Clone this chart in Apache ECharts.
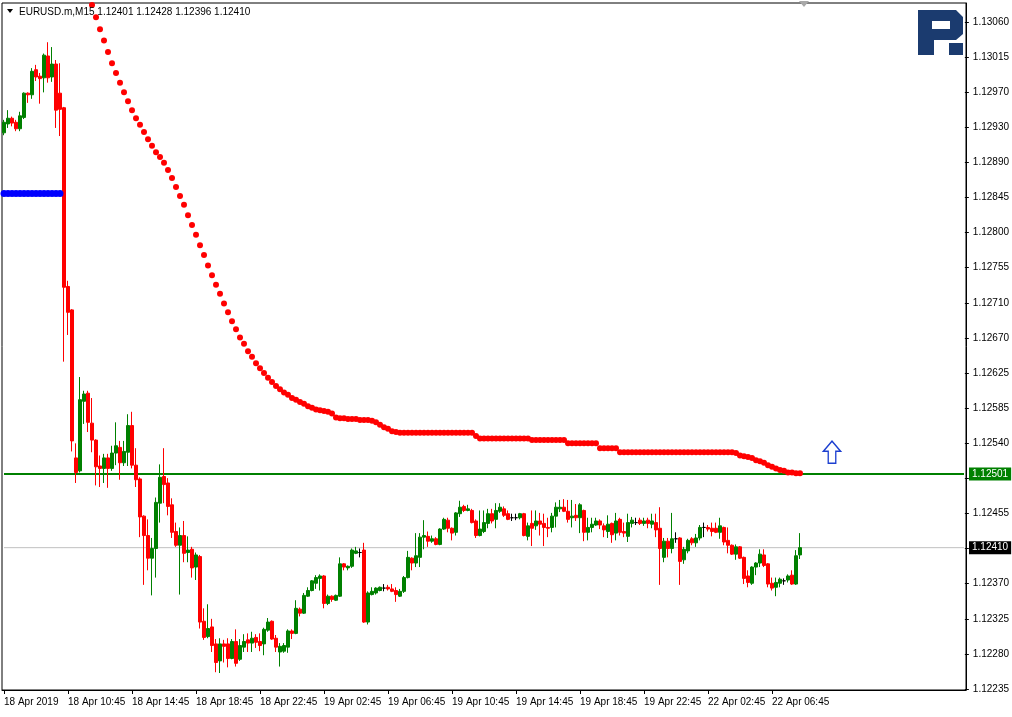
<!DOCTYPE html>
<html><head><meta charset="utf-8">
<script src="https://cdn.jsdelivr.net/npm/echarts/dist/echarts.min.js"></script>
<style>html,body{margin:0;padding:0;background:#fff}#c{width:1012px;height:717px}</style>
</head><body><div id="c"></div>
<script>
const headerText = 'EURUSD.m,M15 1.12401 1.12428 1.12396 1.12410';
const xLabels = ['18 Apr 2019','18 Apr 10:45','18 Apr 14:45','18 Apr 18:45','18 Apr 22:45','19 Apr 02:45','19 Apr 06:45','19 Apr 10:45','19 Apr 14:45','19 Apr 18:45','19 Apr 22:45','22 Apr 02:45','22 Apr 06:45'];
const yLabels = ['1.13060','1.13015','1.12970','1.12930','1.12890','1.12845','1.12800','1.12755','1.12710','1.12670','1.12625','1.12585','1.12540','1.12495','1.12455','1.12410','1.12370','1.12325','1.12280','1.12235'];
const hiddenYLabels = ['1.12495', '1.12410']; // covered by the price boxes
const yMin = 1.12234, yMax = 1.130835;

const opens = [
1.12923,1.12934,1.12941,1.12936,1.12928,1.12942,1.12972,1.12970,1.13001,1.12993,
1.12991,1.13018,1.12992,1.13008,1.12972,1.12954,1.12733,1.12704,1.12521,1.12505,
1.12591,1.12601,1.12564,1.12543,1.12511,1.12508,1.12521,1.12508,1.12527,1.12534,
1.12515,1.12528,1.12561,1.12512,1.12495,1.12449,1.12425,1.12397,1.12409,1.12465,
1.12498,1.12490,1.12463,1.12430,1.12413,1.12425,1.12404,1.12408,1.12386,1.12399,
1.12319,1.12300,1.12312,1.12291,1.12270,1.12291,1.12291,1.12273,1.12294,1.12272,
1.12287,1.12296,1.12292,1.12299,1.12294,1.12291,1.12308,1.12319,1.12298,1.12281,
1.12282,1.12287,1.12307,1.12304,1.12334,1.12329,1.12350,1.12357,1.12366,1.12372,
1.12375,1.12341,1.12350,1.12345,1.12350,1.12390,1.12385,1.12387,1.12403,1.12404,
1.12407,1.12318,1.12352,1.12354,1.12357,1.12360,1.12361,1.12359,1.12357,1.12350,
1.12356,1.12373,1.12397,1.12391,1.12398,1.12423,1.12424,1.12418,1.12421,1.12414,
1.12433,1.12444,1.12434,1.12429,1.12452,1.12461,1.12456,1.12456,1.12443,1.12425,
1.12430,1.12440,1.12452,1.12445,1.12455,1.12458,1.12452,1.12447,1.12447,1.12447,
1.12452,1.12424,1.12440,1.12437,1.12443,1.12440,1.12435,1.12435,1.12449,1.12458,
1.12460,1.12455,1.12447,1.12450,1.12447,1.12456,1.12429,1.12435,1.12438,1.12443,
1.12437,1.12430,1.12440,1.12428,1.12445,1.12430,1.12424,1.12440,1.12441,1.12444,
1.12440,1.12444,1.12439,1.12441,1.12434,1.12398,1.12418,1.12409,1.12421,1.12422,
1.12395,1.12406,1.12421,1.12416,1.12422,1.12435,1.12435,1.12434,1.12434,1.12429,
1.12435,1.12419,1.12413,1.12402,1.12411,1.12398,1.12375,1.12366,1.12386,1.12391,
1.12401,1.12390,1.12366,1.12361,1.12366,1.12369,1.12370,1.12376,1.12365,1.12401];
const highs = [
1.12939,1.12951,1.12943,1.12939,1.12949,1.12973,1.12973,1.13003,1.13007,1.12997,
1.13021,1.13035,1.13029,1.13013,1.13009,1.12955,1.12740,1.12705,1.12539,1.12621,
1.12604,1.12604,1.12595,1.12544,1.12524,1.12526,1.12526,1.12536,1.12565,1.12542,
1.12542,1.12575,1.12578,1.12533,1.12497,1.12450,1.12445,1.12422,1.12472,1.12513,
1.12533,1.12496,1.12471,1.12441,1.12435,1.12443,1.12424,1.12411,1.12404,1.12401,
1.12335,1.12340,1.12322,1.12297,1.12298,1.12296,1.12298,1.12297,1.12309,1.12297,
1.12303,1.12304,1.12306,1.12303,1.12304,1.12311,1.12323,1.12320,1.12302,1.12292,
1.12292,1.12309,1.12309,1.12345,1.12336,1.12354,1.12361,1.12370,1.12376,1.12377,
1.12376,1.12352,1.12351,1.12352,1.12398,1.12391,1.12388,1.12409,1.12411,1.12409,
1.12416,1.12356,1.12361,1.12361,1.12362,1.12365,1.12364,1.12365,1.12361,1.12359,
1.12375,1.12406,1.12398,1.12428,1.12428,1.12444,1.12430,1.12425,1.12423,1.12434,
1.12447,1.12447,1.12435,1.12454,1.12468,1.12463,1.12463,1.12458,1.12445,1.12456,
1.12456,1.12458,1.12458,1.12465,1.12465,1.12461,1.12456,1.12452,1.12452,1.12453,
1.12453,1.12441,1.12456,1.12456,1.12453,1.12452,1.12447,1.12453,1.12466,1.12469,
1.12470,1.12469,1.12469,1.12464,1.12465,1.12457,1.12447,1.12447,1.12447,1.12445,
1.12440,1.12450,1.12441,1.12453,1.12447,1.12441,1.12452,1.12448,1.12447,1.12447,
1.12447,1.12447,1.12452,1.12452,1.12460,1.12422,1.12422,1.12453,1.12429,1.12423,
1.12411,1.12421,1.12423,1.12427,1.12438,1.12441,1.12438,1.12441,1.12441,1.12447,
1.12436,1.12435,1.12414,1.12414,1.12412,1.12399,1.12382,1.12387,1.12392,1.12408,
1.12408,1.12391,1.12373,1.12373,1.12373,1.12372,1.12377,1.12382,1.12407,1.12428];
const lows = [
1.12920,1.12929,1.12931,1.12925,1.12925,1.12940,1.12960,1.12965,1.12987,1.12959,
1.12973,1.12985,1.12986,1.12929,1.12919,1.12640,1.12673,1.12529,1.12490,1.12503,
1.12563,1.12553,1.12528,1.12487,1.12485,1.12490,1.12484,1.12505,1.12512,1.12494,
1.12511,1.12511,1.12508,1.12485,1.12423,1.12364,1.12382,1.12351,1.12373,1.12441,
1.12465,1.12450,1.12422,1.12411,1.12352,1.12392,1.12392,1.12373,1.12370,1.12310,
1.12296,1.12298,1.12281,1.12256,1.12255,1.12268,1.12262,1.12272,1.12263,1.12270,
1.12281,1.12281,1.12281,1.12286,1.12282,1.12277,1.12306,1.12296,1.12281,1.12263,
1.12280,1.12280,1.12297,1.12303,1.12325,1.12328,1.12349,1.12356,1.12359,1.12357,
1.12335,1.12339,1.12343,1.12344,1.12349,1.12382,1.12382,1.12385,1.12402,1.12398,
1.12317,1.12315,1.12351,1.12352,1.12356,1.12356,1.12357,1.12355,1.12343,1.12349,
1.12354,1.12372,1.12382,1.12386,1.12386,1.12408,1.12411,1.12416,1.12413,1.12413,
1.12432,1.12429,1.12419,1.12425,1.12448,1.12454,1.12455,1.12440,1.12422,1.12424,
1.12428,1.12434,1.12440,1.12434,1.12453,1.12448,1.12444,1.12443,1.12444,1.12445,
1.12424,1.12419,1.12412,1.12432,1.12425,1.12412,1.12423,1.12429,1.12435,1.12454,
1.12454,1.12441,1.12435,1.12443,1.12428,1.12418,1.12419,1.12429,1.12437,1.12433,
1.12423,1.12422,1.12416,1.12419,1.12425,1.12423,1.12417,1.12435,1.12438,1.12438,
1.12437,1.12434,1.12434,1.12423,1.12364,1.12392,1.12398,1.12403,1.12416,1.12364,
1.12390,1.12403,1.12413,1.12411,1.12419,1.12423,1.12430,1.12424,1.12428,1.12421,
1.12413,1.12403,1.12401,1.12395,1.12396,1.12365,1.12361,1.12364,1.12376,1.12386,
1.12386,1.12361,1.12357,1.12350,1.12361,1.12364,1.12367,1.12364,1.12364,1.12396];
const closes = [
1.12936,1.12941,1.12935,1.12928,1.12944,1.12972,1.12970,1.12999,1.12992,1.12990,
1.13019,1.12991,1.13008,1.12951,1.12952,1.12732,1.12701,1.12542,1.12503,1.12593,
1.12600,1.12565,1.12543,1.12510,1.12508,1.12521,1.12508,1.12527,1.12536,1.12515,
1.12529,1.12561,1.12512,1.12494,1.12448,1.12425,1.12397,1.12409,1.12466,1.12497,
1.12488,1.12461,1.12429,1.12413,1.12425,1.12403,1.12407,1.12385,1.12401,1.12318,
1.12299,1.12310,1.12289,1.12268,1.12291,1.12288,1.12273,1.12294,1.12267,1.12289,
1.12294,1.12292,1.12298,1.12293,1.12289,1.12309,1.12318,1.12297,1.12287,1.12288,
1.12289,1.12307,1.12304,1.12335,1.12329,1.12351,1.12357,1.12369,1.12373,1.12375,
1.12341,1.12350,1.12346,1.12351,1.12390,1.12386,1.12387,1.12407,1.12406,1.12404,
1.12318,1.12354,1.12356,1.12360,1.12361,1.12360,1.12359,1.12356,1.12352,1.12356,
1.12373,1.12398,1.12391,1.12400,1.12423,1.12425,1.12418,1.12421,1.12414,1.12433,
1.12445,1.12434,1.12428,1.12453,1.12460,1.12456,1.12458,1.12441,1.12425,1.12433,
1.12441,1.12452,1.12443,1.12456,1.12460,1.12450,1.12445,1.12447,1.12447,1.12452,
1.12425,1.12437,1.12434,1.12443,1.12439,1.12435,1.12434,1.12449,1.12460,1.12460,
1.12455,1.12445,1.12449,1.12447,1.12463,1.12429,1.12435,1.12439,1.12443,1.12438,
1.12432,1.12439,1.12426,1.12443,1.12429,1.12428,1.12441,1.12444,1.12441,1.12440,
1.12443,1.12440,1.12443,1.12432,1.12409,1.12418,1.12409,1.12421,1.12421,1.12393,
1.12408,1.12419,1.12416,1.12422,1.12435,1.12435,1.12433,1.12430,1.12429,1.12437,
1.12417,1.12413,1.12402,1.12411,1.12397,1.12372,1.12367,1.12386,1.12391,1.12402,
1.12388,1.12365,1.12360,1.12367,1.12371,1.12369,1.12375,1.12365,1.12400,1.12410];

// red dotted indicator, first value belongs to candle index 22
const sarStart = 22;
const sarValues = [
1.13081,1.13066,1.13051,1.13037,1.13023,1.13009,1.12997,1.12985,1.12973,1.12962,
1.12951,1.12941,1.12933,1.12924,1.12915,1.12907,1.12899,1.12893,1.12886,1.12877,
1.12867,1.12856,1.12845,1.12834,1.12821,1.12809,1.12797,1.12784,1.12772,1.12759,
1.12747,1.12735,1.12724,1.12712,1.12701,1.12690,1.12680,1.12670,1.12662,1.12653,
1.12646,1.12638,1.12632,1.12626,1.12620,1.12615,1.12610,1.12606,1.12602,1.12599,
1.12595,1.12593,1.12590,1.12588,1.12585,1.12583,1.12581,1.12580,1.12579,1.12578,
1.12576,1.12571,1.12570,1.12570,1.12569,1.12569,1.12569,1.12568,1.12568,1.12568,
1.12567,1.12565,1.12562,1.12559,1.12557,1.12554,1.12553,1.12552,
1.12552,1.12552,1.12552,1.12552,1.12552,1.12552,1.12552,1.12552,1.12552,1.12552,
1.12552,1.12552,1.12552,1.12552,1.12552,1.12552,1.12552,1.12552,
1.12548,
1.12545,1.12545,1.12545,1.12545,1.12545,1.12545,1.12545,1.12545,1.12545,1.12545,1.12545,1.12545,1.12545,
1.12543,1.12543,1.12543,1.12543,1.12543,1.12543,1.12543,1.12543,1.12543,
1.12539,1.12539,1.12539,1.12539,1.12539,1.12539,1.12539,1.12539,
1.12533,1.12533,1.12533,1.12533,1.12533,
1.12528,1.12528,1.12528,1.12528,1.12528,1.12528,1.12528,1.12528,1.12528,1.12528,
1.12528,1.12528,1.12528,1.12528,1.12528,1.12528,1.12528,1.12528,1.12528,1.12528,
1.12528,1.12528,1.12528,1.12528,1.12528,1.12528,1.12528,1.12528,1.12528,
1.12527,1.12524,1.12523,1.12522,1.12521,1.12518,1.12517,1.12515,1.12512,1.12510,
1.12508,1.12506,1.12505,1.12503,1.12503,1.12502,1.12502];
// blue dotted level, candles 0..14
const blueValues = [1.12848,1.12848,1.12848,1.12848,1.12848,1.12848,1.12848,1.12848,1.12848,1.12848,1.12848,1.12848,1.12848,1.12848,1.12848];
const levelLine = 1.12501;
const bidLine = 1.12410;
const arrowPoint = {index: 207, price: 1.12528};

const N = 241; // candle slots incl. right shift
const cats = Array.from({length: N}, (_, i) => i);
const candleData = opens.map((o, i) => [o, closes[i], lows[i], highs[i]]);
const sarData = cats.map(i => (i >= sarStart && i - sarStart < sarValues.length) ? sarValues[i - sarStart] : null);
const blueData = cats.map(i => i < blueValues.length ? blueValues[i] : null);
const levelData = cats.map(() => levelLine);
const bidData = cats.map(() => bidLine);
const FONT = 'Liberation Sans, Arial, sans-serif';

function hLine(data, value, color, width, bg, fg) {
  return {type: 'line', xAxisIndex: 0, yAxisIndex: 0, data: data, symbol: 'none', silent: true, z: 1,
    lineStyle: {color: color, width: width},
    endLabel: {show: true, formatter: value.toFixed(5), color: fg, backgroundColor: bg, padding: [2, 3, 1, 3],
               fontSize: 10, fontFamily: FONT, distance: 5}};
}

const chart = echarts.init(document.getElementById('c'));
chart.setOption({
  animation: false,
  backgroundColor: '#fff',
  grid: [
    {left: 2, top: 3, width: 964, height: 687, show: true, borderColor: '#000', borderWidth: 1},
    {left: 2, top: 22, width: 964, height: 667, show: false}
  ],
  xAxis: [
    {type: 'category', data: cats, gridIndex: 0, boundaryGap: true,
     axisLine: {show: true, lineStyle: {color: '#000'}},
     axisTick: {show: true, alignWithLabel: true, interval: (i) => i % 16 === 0 && i <= 192, length: 4, lineStyle: {color: '#000'}},
     axisLabel: {interval: (i) => i % 16 === 0 && i <= 192, formatter: (v, i) => xLabels[i / 16], align: 'left', color: '#000', fontSize: 10, fontFamily: FONT, margin: 7},
     splitLine: {show: false}},
    {type: 'category', data: cats, gridIndex: 1, show: false}
  ],
  yAxis: [
    {type: 'value', gridIndex: 0, position: 'right', min: yMin, max: yMax,
     axisLine: {show: true, lineStyle: {color: '#000'}}, axisTick: {show: false}, axisLabel: {show: false}, splitLine: {show: false}},
    {type: 'category', gridIndex: 1, position: 'right', data: yLabels, inverse: true, boundaryGap: false,
     axisLine: {show: false}, axisTick: {show: true, length: 4, lineStyle: {color: '#000'}},
     axisLabel: {color: '#000', fontSize: 10, fontFamily: FONT, margin: 8, formatter: (v) => hiddenYLabels.includes(v) ? '' : v},
     splitLine: {show: false}}
  ],
  series: [
    hLine(bidData, bidLine, '#c0c0c0', 1, '#000', '#fff'),
    hLine(levelData, levelLine, '#008000', 2, '#008000', '#fff'),
    {type: 'candlestick', xAxisIndex: 0, yAxisIndex: 0, data: candleData, barWidth: 3, z: 2,
     itemStyle: {color: '#008000', color0: '#ff0000', borderColor: '#008000', borderColor0: '#ff0000', borderColorDoji: '#000', borderWidth: 1},
     markPoint: {silent: true, animation: false,
       data: [{coord: [arrowPoint.index, arrowPoint.price], symbol: 'path://M9,0 L18,10 L13,10 L13,22 L5,22 L5,10 L0,10 Z', symbolSize: [17, 22],
               itemStyle: {color: '#fff', borderColor: '#1c3fd0', borderWidth: 1.5}, label: {show: false}}]}
    },
    {type: 'line', xAxisIndex: 0, yAxisIndex: 0, data: sarData, symbol: 'circle', symbolSize: 6, showAllSymbol: true,
     lineStyle: {width: 0, opacity: 0}, itemStyle: {color: '#ff0000', borderWidth: 0}, z: 3},
    {type: 'line', xAxisIndex: 0, yAxisIndex: 0, data: blueData, symbol: 'circle', symbolSize: 7, showAllSymbol: true,
     lineStyle: {width: 0, opacity: 0}, itemStyle: {color: '#0000ff', borderWidth: 0}, z: 3}
  ],
  graphic: [
    {type: 'polygon', shape: {points: [[7, 9], [13, 9], [10, 13]]}, style: {fill: '#000'}, z: 100},
    {type: 'text', left: 19, top: 7, style: {text: headerText, font: '10px ' + FONT, fill: '#000'}, z: 100},
    {type: 'polygon', shape: {points: [[799, 1], [809, 1], [804, 7]]}, style: {fill: '#a8a8a8'}, z: 100},
    {type: 'group', left: 918, top: 10, z: 100, children: [
      {type: 'polygon', shape: {points: [[0,0],[38,0],[45,7],[45,24],[38,30],[16,30],[16,45],[0,45]]}, style: {fill: '#1b3b6f'}},
      {type: 'rect', shape: {x: 14, y: 11, width: 18, height: 8}, style: {fill: '#fff'}},
      {type: 'rect', shape: {x: 31, y: 33, width: 14, height: 12}, style: {fill: '#1b3b6f'}}
    ]}
  ]
});
</script></body></html>
